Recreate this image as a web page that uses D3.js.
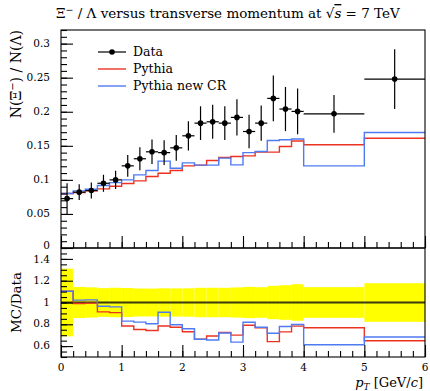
<html lang="en">
<head>
    <meta charset="UTF-8">
    <title>Xi / Lambda versus pT</title>
    <script src="https://cdnjs.cloudflare.com/ajax/libs/d3/7.8.5/d3.min.js"></script>
    <style type="text/css">
        body { margin: 0; background: white; }
        svg text { font-family: 'DejaVu Serif', serif; }
    </style>
</head>
<body>
    <div id="onlydiv"></div>
    <script type="text/javascript">

        // Bin edges in pT [GeV/c]
        var binEdges = [0, 0.2, 0.4, 0.6, 0.8, 1.0, 1.2, 1.4, 1.6, 1.8, 2.0, 2.2, 2.4, 2.6, 2.8, 3.0, 3.2, 3.4, 3.6, 3.8, 4.0, 5.0, 6.0];

        // Measured ratio and its uncertainty
        var dataVals = [0.0725, 0.082, 0.0843, 0.095, 0.100, 0.1206, 0.131, 0.1412, 0.140, 0.147, 0.1647, 0.1833, 0.1853, 0.1833, 0.1917, 0.171, 0.1833, 0.2196, 0.204, 0.2005, 0.197, 0.248];
        var dataErrs = [0.0225, 0.0117, 0.0117, 0.0125, 0.0135, 0.0160, 0.0168, 0.0180, 0.0182, 0.0190, 0.0214, 0.0247, 0.0250, 0.0247, 0.0265, 0.0245, 0.0257, 0.0336, 0.0324, 0.0336, 0.0277, 0.0439];

        // Generator predictions
        var pythia      = [0.080, 0.0813, 0.0838, 0.0868, 0.0907, 0.0946, 0.0985, 0.1049, 0.1098, 0.1137, 0.1206, 0.1216, 0.1284, 0.1328, 0.1343, 0.1353, 0.1407, 0.1407, 0.149, 0.157, 0.1515, 0.161];
        var pythiaNewCR = [0.080, 0.0838, 0.0863, 0.0917, 0.096, 0.100, 0.1074, 0.1137, 0.1275, 0.117, 0.125, 0.1216, 0.1216, 0.132, 0.122, 0.140, 0.1417, 0.1578, 0.159, 0.160, 0.1206, 0.1696];

        // Tick values
        var xTicks = [0, 1, 2, 3, 4, 5, 6];
        var mainYTicks = [0, 0.05, 0.1, 0.15, 0.2, 0.25, 0.3];
        var ratioYTicks = [0.6, 0.8, 1, 1.2, 1.4];

        var w = 430;
        var h = 391;
        var left = 61, right = 425;
        var mainTop = 30, mainBottom = 248;
        var ratioTop = 248, ratioBottom = 357;

        var red = "#ec3322";
        var blue = "#4f7bf2";

        var svg = d3.select("#onlydiv")
            .append("svg")
            .attr("width", w)
            .attr("height", h);

        var xScale = d3.scaleLinear().domain([0, 6]).range([left, right]);
        var yMain = d3.scaleLinear().domain([0, 0.32]).range([mainBottom, mainTop]);
        var yRatio = d3.scaleLinear().domain([0.5, 1.5]).range([ratioBottom, ratioTop]);

        svg.append("clipPath").attr("id", "clipMain")
            .append("rect").attr("x", left).attr("y", mainTop)
            .attr("width", right - left).attr("height", mainBottom - mainTop);
        svg.append("clipPath").attr("id", "clipRatio")
            .append("rect").attr("x", left).attr("y", ratioTop)
            .attr("width", right - left).attr("height", ratioBottom - ratioTop);

        // step histogram points
        var stepPoints = function(vals) {
            var pts = vals.map(function(v, i) { return [binEdges[i], v]; });
            pts.push([binEdges[vals.length], vals[vals.length - 1]]);
            return pts;
        };

        // ---------- main panel ----------
        var mainG = svg.append("g").attr("clip-path", "url(#clipMain)");

        var mainLine = d3.line()
            .x(function(d) { return xScale(d[0]); })
            .y(function(d) { return yMain(d[1]); })
            .curve(d3.curveStepAfter);

        mainG.append("path")
            .attr("d", mainLine(stepPoints(pythia)))
            .attr("fill", "none").attr("stroke", red).attr("stroke-width", 1.4);
        mainG.append("path")
            .attr("d", mainLine(stepPoints(pythiaNewCR)))
            .attr("fill", "none").attr("stroke", blue).attr("stroke-width", 1.4);

        var points = dataVals.map(function(v, i) {
            return { lo: binEdges[i], hi: binEdges[i + 1], mid: (binEdges[i] + binEdges[i + 1]) / 2, v: v, e: dataErrs[i] };
        });

        var pts = mainG.selectAll("g.pt").data(points).enter().append("g").attr("class", "pt");
        pts.append("line")
            .attr("x1", function(d) { return xScale(d.lo); })
            .attr("x2", function(d) { return xScale(d.hi); })
            .attr("y1", function(d) { return yMain(d.v); })
            .attr("y2", function(d) { return yMain(d.v); })
            .attr("stroke", "black").attr("stroke-width", 1.2);
        pts.append("line")
            .attr("x1", function(d) { return xScale(d.mid); })
            .attr("x2", function(d) { return xScale(d.mid); })
            .attr("y1", function(d) { return yMain(d.v - d.e); })
            .attr("y2", function(d) { return yMain(d.v + d.e); })
            .attr("stroke", "black").attr("stroke-width", 1.2);
        pts.append("circle")
            .attr("cx", function(d) { return xScale(d.mid); })
            .attr("cy", function(d) { return yMain(d.v); })
            .attr("r", 2.8)
            .attr("fill", "black");

        // ---------- ratio panel ----------
        var ratioG = svg.append("g").attr("clip-path", "url(#clipRatio)");

        ratioG.selectAll("rect.band").data(points).enter().append("rect")
            .attr("class", "band")
            .attr("x", function(d) { return xScale(d.lo); })
            .attr("width", function(d) { return xScale(d.hi) - xScale(d.lo); })
            .attr("y", function(d) { return yRatio(1 + d.e / d.v); })
            .attr("height", function(d) { return yRatio(1 - d.e / d.v) - yRatio(1 + d.e / d.v); })
            .attr("fill", "#ffff00");

        ratioG.append("line")
            .attr("x1", left).attr("x2", right)
            .attr("y1", yRatio(1)).attr("y2", yRatio(1))
            .attr("stroke", "#3a3a10").attr("stroke-width", 1.8);

        var ratioLine = d3.line()
            .x(function(d) { return xScale(d[0]); })
            .y(function(d) { return yRatio(d[1]); })
            .curve(d3.curveStepAfter);

        var toRatio = function(vals) {
            return vals.map(function(v, i) { return v / dataVals[i]; });
        };

        ratioG.append("path")
            .attr("d", ratioLine(stepPoints(toRatio(pythia))))
            .attr("fill", "none").attr("stroke", red).attr("stroke-width", 1.4);
        ratioG.append("path")
            .attr("d", ratioLine(stepPoints(toRatio(pythiaNewCR))))
            .attr("fill", "none").attr("stroke", blue).attr("stroke-width", 1.4);

        // ---------- frames ----------
        svg.append("rect")
            .attr("x", left).attr("y", mainTop)
            .attr("width", right - left).attr("height", mainBottom - mainTop)
            .attr("fill", "none").attr("stroke", "black").attr("stroke-width", 1.1);
        svg.append("rect")
            .attr("x", left).attr("y", ratioTop)
            .attr("width", right - left).attr("height", ratioBottom - ratioTop)
            .attr("fill", "none").attr("stroke", "black").attr("stroke-width", 1.1);

        // ---------- ticks ----------
        var fmt = function(d) { return String(+d.toFixed(2)); };

        var mainMinorY = d3.range(0, 0.3201, 0.01);
        svg.append("g")
            .attr("transform", "translate(" + left + ",0)")
            .call(d3.axisRight(yMain).tickValues(mainMinorY).tickSize(6).tickFormat(""))
            .call(function(g) { g.select(".domain").remove(); });
        svg.append("g")
            .attr("transform", "translate(" + left + ",0)")
            .call(d3.axisRight(yMain).tickValues(mainYTicks).tickSize(12).tickFormat(""))
            .call(function(g) { g.select(".domain").remove(); });

        var ratioMinorY = d3.range(0.5, 1.5001, 0.05);
        svg.append("g")
            .attr("transform", "translate(" + left + ",0)")
            .call(d3.axisRight(yRatio).tickValues(ratioMinorY).tickSize(6).tickFormat(""))
            .call(function(g) { g.select(".domain").remove(); });
        svg.append("g")
            .attr("transform", "translate(" + left + ",0)")
            .call(d3.axisRight(yRatio).tickValues(ratioYTicks).tickSize(12).tickFormat(""))
            .call(function(g) { g.select(".domain").remove(); });

        var minorX = d3.range(0, 6.001, 0.2);
        [mainBottom, ratioBottom].forEach(function(yy) {
            svg.append("g")
                .attr("transform", "translate(0," + yy + ")")
                .call(d3.axisTop(xScale).tickValues(minorX).tickSize(6).tickFormat(""))
                .call(function(g) { g.select(".domain").remove(); });
            svg.append("g")
                .attr("transform", "translate(0," + yy + ")")
                .call(d3.axisTop(xScale).tickValues(xTicks).tickSize(12).tickFormat(""))
                .call(function(g) { g.select(".domain").remove(); });
        });
        svg.selectAll(".tick line").attr("stroke", "black").attr("stroke-width", 1.1);

        // tick labels (the bottom "0" sits a little high so it clears "1.4")
        svg.append("g").selectAll("text").data(mainYTicks).enter().append("text")
            .attr("x", left - 11)
            .attr("y", function(d) { return yMain(d) - (d === 0 ? 2.5 : 0); })
            .attr("dy", "0.3em")
            .attr("text-anchor", "end")
            .attr("font-size", 10.5)
            .text(fmt);
        svg.append("g").selectAll("text").data(ratioYTicks).enter().append("text")
            .attr("x", left - 11)
            .attr("y", function(d) { return yRatio(d) + (d === 1.4 ? 1 : 0); })
            .attr("dy", "0.3em")
            .attr("text-anchor", "end")
            .attr("font-size", 10.5)
            .text(fmt);
        svg.append("g").selectAll("text").data(xTicks).enter().append("text")
            .attr("x", function(d) { return xScale(d); })
            .attr("y", ratioBottom + 14)
            .attr("text-anchor", "middle")
            .attr("font-size", 10.5)
            .text(function(d) { return d; });

        // ---------- labels ----------
        var title = svg.append("text")
            .attr("x", 56).attr("y", 18)
            .attr("font-size", 13.5);
        title.append("tspan").text("\u039E");
        title.append("tspan").attr("dy", -5).attr("font-size", 9.5).text("\u2212");
        title.append("tspan").attr("dy", 5).text(" / \u039B versus transverse momentum at \u221A");
        title.append("tspan").attr("font-style", "italic").attr("text-decoration", "overline").text("s");
        title.append("tspan").text(" = 7 TeV");

        var ylab = svg.append("text")
            .attr("transform", "translate(21," + mainTop + ") rotate(-90)")
            .attr("text-anchor", "end")
            .attr("font-size", 14);
        ylab.append("tspan").text("N(\u039E");
        ylab.append("tspan").attr("dy", -5).attr("font-size", 10).text("\u2212");
        ylab.append("tspan").attr("dy", 5).text(") / N(\u039B)");

        svg.append("text")
            .attr("transform", "translate(21," + yRatio(1) + ") rotate(-90)")
            .attr("text-anchor", "middle")
            .attr("font-size", 13.5)
            .text("MC/Data");

        var xlab = svg.append("text")
            .attr("x", right - 2).attr("y", 387)
            .attr("text-anchor", "end")
            .attr("font-size", 13);
        xlab.append("tspan").attr("font-style", "italic").text("p");
        xlab.append("tspan").attr("font-style", "italic").attr("font-size", 9).attr("dy", 3).text("T");
        xlab.append("tspan").attr("dy", -3).text(" [GeV/");
        xlab.append("tspan").attr("font-style", "italic").text("c");
        xlab.append("tspan").text("]");

        // ---------- legend ----------
        var legendItems = [
            { name: "Data", color: "black", marker: true },
            { name: "Pythia", color: red, marker: false },
            { name: "Pythia new CR", color: blue, marker: false }
        ];
        var legend = svg.append("g").selectAll("g").data(legendItems).enter().append("g")
            .attr("transform", function(d, i) { return "translate(98," + (52 + i * 17) + ")"; });
        legend.append("line")
            .attr("x1", 0).attr("x2", 28).attr("y1", 0).attr("y2", 0)
            .attr("stroke", function(d) { return d.color; })
            .attr("stroke-width", function(d) { return d.marker ? 1.2 : 1.4; });
        legend.filter(function(d) { return d.marker; }).append("circle")
            .attr("cx", 14).attr("cy", 0).attr("r", 2.8).attr("fill", "black");
        legend.append("text")
            .attr("x", 35).attr("y", 0).attr("dy", "0.35em")
            .attr("font-size", 12.5)
            .text(function(d) { return d.name; });

    </script>
</body>
</html>
